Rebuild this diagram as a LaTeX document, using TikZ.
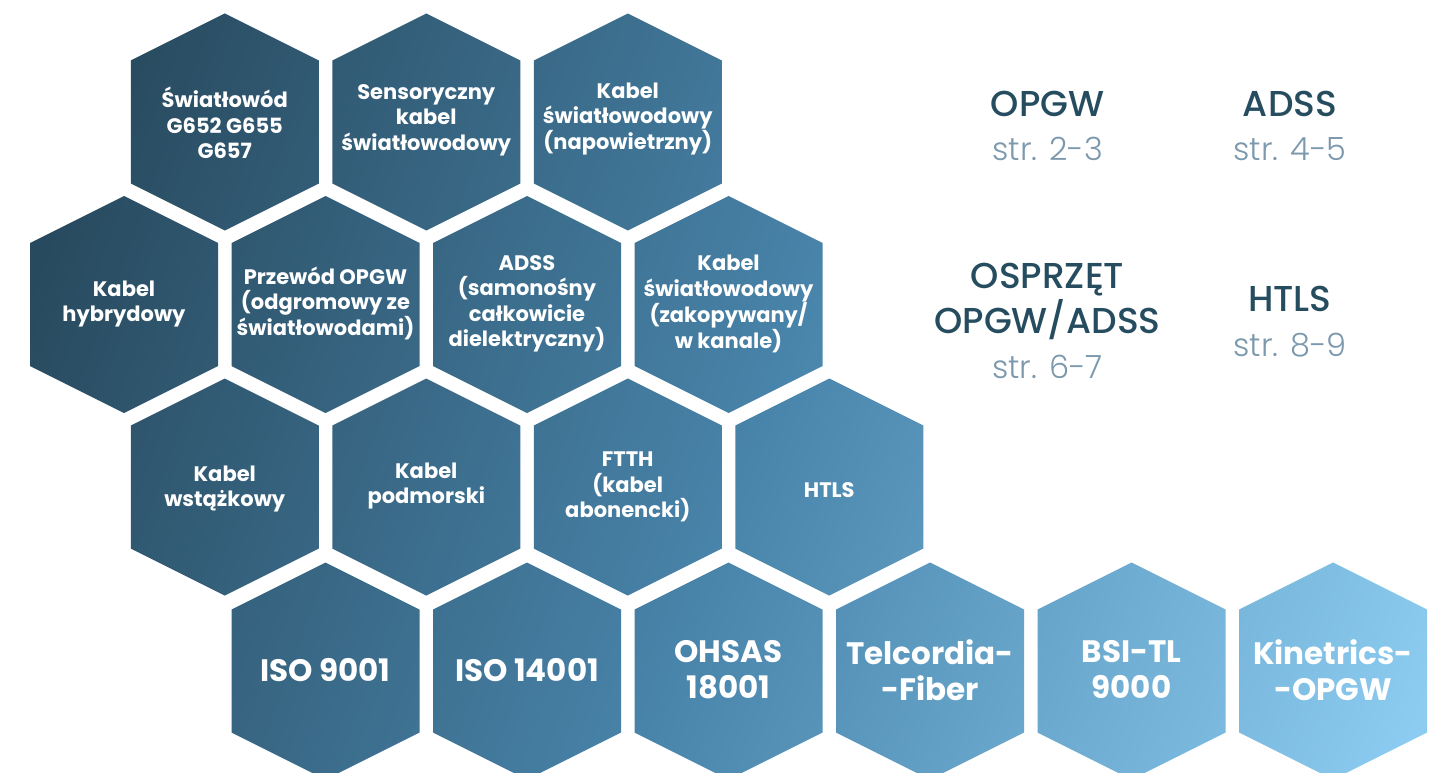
\documentclass[tikz,border=0pt]{standalone}
\usepackage{fontspec}
\setmainfont{Poppins}
\newfontfamily\popb{Poppins Bold}
\newfontfamily\popm{Poppins Medium}
\newfontfamily\popl{Poppins Light}
\definecolor{hexA}{HTML}{284A5E}
\definecolor{hexM}{HTML}{4883A9}
\definecolor{hexB}{HTML}{8CCCF0}
\definecolor{ttl}{HTML}{264C5F}
\definecolor{pg}{HTML}{7B98AD}
\pgfdeclarehorizontalshading{hexgrad}{100bp}{color(0bp)=(hexA); color(29bp)=(hexA); color(50.4bp)=(hexM); color(71.7bp)=(hexB); color(100bp)=(hexB)}
\tikzset{
  hextxt/.style={align=center, text=white, inner sep=0pt, font=\popb\fontsize{21}{25.5}\selectfont},
  hexbig/.style={align=center, text=white, inner sep=0pt, font=\popb\fontsize{31}{36}\selectfont},
  ttltxt/.style={align=center, text=ttl, inner sep=0pt, anchor=base, font=\popm\fontsize{36}{45}\selectfont},
  pgtxt/.style={text=pg, inner sep=0pt, anchor=base, font=\popl\fontsize{32}{40}\selectfont}
}
\begin{document}
\begin{tikzpicture}[x=1pt,y=-1pt]
\useasboundingbox (0,0) rectangle (1442,773);
\begin{scope}
\clip foreach \cx/\cy in {224.75/122, 426.25/122, 627.75/122,
  124/304.5, 325.5/304.5, 527/304.5, 728.5/304.5,
  224.75/487, 426.25/487, 627.75/487, 829.25/487,
  325.5/671, 527/671, 728.5/671, 930/671, 1131.5/671, 1333/671}
  { (\cx,\cy) ++(0,-108.5) -- ++(94,47) -- ++(0,123) -- ++(-94,47) -- ++(-94,-47) -- ++(0,-123) -- cycle };
\begin{scope}[transform canvas={rotate around={-20:(729,393)}}]
\shade[shading=hexgrad] (-100,-700) rectangle (1600,1500);
\end{scope}
\end{scope}

\node[hextxt] (h11) at (224.75,123) {Światłowód\\G652 G655\\G657};
\node[hextxt] (h12) at (426.25,120) {Sensoryczny\\kabel\\światłowodowy};
\node[hextxt] (h13) at (627.75,119) {Kabel\\światłowodowy\\(napowietrzny)};
\node[hextxt] (h21) at (124,304) {Kabel\\hybrydowy};
\node[hextxt] (h22) at (325.5,303) {Przewód OPGW\\(odgromowy ze\\światłowodami)};
\node[hextxt] (h23) at (527,304) {ADSS\\(samonośny\\całkowicie\\dielektryczny)};
\node[hextxt] (h24) at (728.5,304) {Kabel\\światłowodowy\\(zakopywany/\\w kanale)};
\node[hextxt] (h31) at (224.75,489) {Kabel\\wstążkowy};
\node[hextxt] (h32) at (426.25,486) {Kabel\\podmorski};
\node[hextxt] (h33) at (627.75,487) {FTTH\\(kabel\\abonencki)};
\node[hextxt] (h34) at (829.25,490) {HTLS};
\node[hexbig] (h41) at (325.5,670) {ISO 9001};
\node[hexbig] (h42) at (527,670) {ISO 14001};
\node[hexbig] (h43) at (728.5,670) {OHSAS\\18001};
\node[hexbig] (h44) at (930,670) {Telcordia-\\-Fiber};
\node[hexbig] (h45) at (1131.5,670) {BSI-TL\\9000};
\node[hexbig] (h46) at (1333,670) {Kinetrics-\\-OPGW};

\node[ttltxt] (t1) at (1047.5,117) {OPGW};
\node[pgtxt] (s1) at (1047.5,160) {str. 2-3};
\node[ttltxt] (t2) at (1290,117) {ADSS};
\node[pgtxt] (s2) at (1290,160) {str. 4-5};
\node[ttltxt] (t3a) at (1047.5,288) {OSPRZĘT};
\node[ttltxt] (t3b) at (1047.5,333) {OPGW/ADSS};
\node[pgtxt] (s3) at (1047.5,378) {str. 6-7};
\node[ttltxt] (t4) at (1290,311) {HTLS};
\node[pgtxt] (s4) at (1290,356) {str. 8-9};
\end{tikzpicture}
\end{document}
